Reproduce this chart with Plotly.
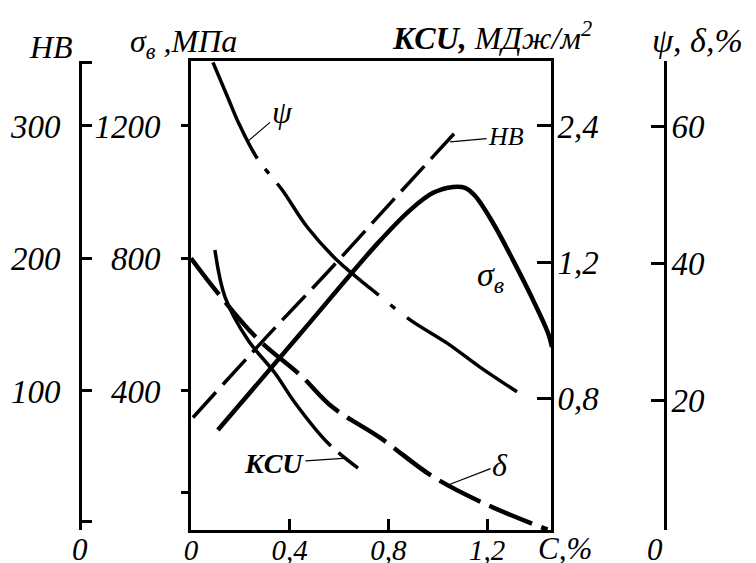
import plotly.graph_objects as go

# ---- data ----
carbon_ticks = [0, 0.4, 0.8, 1.2]
carbon_labels = ["0", "0,4", "0,8", "1,2"]

sigma_c = [0.109, 0.442, 0.758, 0.888, 0.981, 1.062, 1.111, 1.151, 1.224, 1.305, 1.386, 1.447, 1.463]
sigma_v = [282, 572, 847, 946, 998, 1016, 1013, 989, 907, 795, 675, 575, 533]

hb_c = [0.008, 0.312, 0.555, 0.819, 1.090]
hb_v = [80, 142, 190, 244, 299]

kcu_c = [0.097, 0.138, 0.231, 0.340, 0.422, 0.555, 0.677]
kcu_v = [1.671, 1.394, 1.141, 0.947, 0.771, 0.535, 0.388]

psi_c = [0.089, 0.150, 0.191, 0.268, 0.369, 0.470, 0.592, 0.734, 0.888, 1.038, 1.171, 1.321]
psi_v = [69.3, 64.1, 60.6, 55.3, 50.7, 45.3, 40.4, 36.1, 31.7, 28.3, 24.8, 21.2]

delta_c = [0.0, 0.105, 0.268, 0.450, 0.572, 0.766, 0.981, 1.200, 1.415, 1.445]
delta_v = [40.7, 35.8, 29.0, 23.4, 19.0, 14.5, 8.8, 4.7, 1.5, 1.1]

sigma_ticks = [1200, 800, 400, 95]
sigma_labels = ["1200", "800", "400", ""]
hb_ticks = [1.5, 100, 200, 300, 348]
hb_labels = ["", "100", "200", "300", ""]
kcu_ticks = [2.4, 1.6, 0.8]
kcu_labels = ["2,4", "1,2", "0,8"]
pct_ticks = [1.1, 20, 40, 60, 69.4]
pct_labels = ["", "20", "40", "60", ""]

W, H = 756, 563
FONT = "Liberation Serif"
TICKF = dict(family=FONT, size=33, color="black", style="italic")


def px(x):
    return x / W


def py(y):
    return 1 - y / H


fig = go.Figure()
common = dict(mode="lines", line_shape="spline", showlegend=False, hoverinfo="skip")
fig.add_trace(go.Scatter(x=sigma_c, y=sigma_v, yaxis="y",
                         line=dict(color="black", width=4.5), **common))
fig.add_trace(go.Scatter(x=hb_c, y=hb_v, yaxis="y2",
                         line=dict(color="black", width=3.5, dash="34px,10px"), **common))
fig.add_trace(go.Scatter(x=kcu_c, y=kcu_v, yaxis="y3",
                         line=dict(color="black", width=3.5, dash="232px,10px,30px,10px"), **common))
fig.add_trace(go.Scatter(x=psi_c, y=psi_v, yaxis="y4",
                         line=dict(color="black", width=3.5,
                                   dash="106px,13px,6px,13px,152px,15px,6px,15px,200px,12px"), **common))
fig.add_trace(go.Scatter(x=delta_c, y=delta_v, yaxis="y4",
                         line=dict(color="black", width=4.5, dash="46px,10px"), **common))

xdom = [px(191), px(551)]
ydom = [py(530), py(61)]
axline = dict(showline=True, linecolor="black", linewidth=3, showgrid=False, zeroline=False,
              tickcolor="black", tickwidth=3, automargin=False)

fig.update_layout(
    width=W, height=H,
    margin=dict(l=0, r=0, t=0, b=0, autoexpand=False),
    paper_bgcolor="white", plot_bgcolor="white",
    font=dict(family=FONT, color="black", style="italic"),
    xaxis=dict(domain=xdom, range=[0, 1.459], tickvals=carbon_ticks, ticktext=carbon_labels,
               ticks="inside", ticklen=11, mirror=True, ticklabelstandoff=-8,
               tickfont=dict(family=FONT, size=29, color="black", style="italic"), **axline),
    yaxis=dict(domain=ydom, range=[-19.6, 1396], tickvals=sigma_ticks, ticktext=sigma_labels,
               ticks="outside", ticklen=7, ticklabelstandoff=14, tickfont=TICKF, **axline),
    yaxis2=dict(overlaying="y", anchor="free", position=px(80), side="left",
                range=[-4.9, 349], tickvals=hb_ticks, ticktext=hb_labels,
                ticks="inside", ticklen=10, ticklabelstandoff=12, tickfont=TICKF, **axline),
    yaxis3=dict(overlaying="y", anchor="x", side="right",
                range=[0.024, 2.782], tickvals=kcu_ticks, ticktext=kcu_labels,
                ticks="inside", ticklen=14, ticklabelstandoff=-3, tickfont=TICKF, **axline),
    yaxis4=dict(overlaying="y", anchor="free", position=px(665), side="right",
                range=[1.02, 69.5], tickvals=pct_ticks, ticktext=pct_labels,
                ticks="inside", ticklen=13, ticklabelstandoff=-2, tickfont=TICKF, **axline),
)

ann = []


def text(x, y, t, size=32, xanchor="center", **kw):
    ann.append(dict(xref="paper", yref="paper", x=px(x), y=py(y), text=t, showarrow=False,
                    xanchor=xanchor, yanchor="middle",
                    font=dict(family=FONT, size=size, color="black", style="italic"), **kw))


# axis titles
text(51, 47, "HB")
text(183, 43, "σ<sub>в</sub> ,МПа")
text(390, 36, "<b>KCU,</b> МДж/м<sup>2</sup>", xanchor="left")
text(650, 40, "ψ, δ,%", size=34, xanchor="left")
# zero labels and C,%
text(80, 549, "0", size=31)
text(655, 549, "0", size=31)
text(565, 548, "C,%", size=31)
# curve label without leader
text(490, 277, "σ<sub>в</sub>", size=34)


def leader(xv, yv, yref, t, tx, ty, hx, hy, size=32):
    ann.append(dict(xref="x", yref=yref, x=xv, y=yv, text=t, showarrow=True,
                    arrowhead=0, arrowwidth=1.2, arrowcolor="black",
                    axref="pixel", ayref="pixel", ax=tx - hx, ay=ty - hy,
                    font=dict(family=FONT, size=size, color="black", style="italic")))


leader(0.231, 57.8, "y4", "ψ", 282, 103, 248, 132)
leader(1.05, 287.9, "y2", "HB", 506, 137, 450, 142, size=26)
leader(0.632, 0.447, "y3", "<b>KCU</b>", 274, 463, 347, 458, size=28)
leader(1.042, 7.6, "y4", "δ", 500, 465, 448, 485)

fig.update_layout(annotations=ann)
fig.write_html("out.html", config={"displayModeBar": False},
               post_script="document.body.style.margin='0px';")
